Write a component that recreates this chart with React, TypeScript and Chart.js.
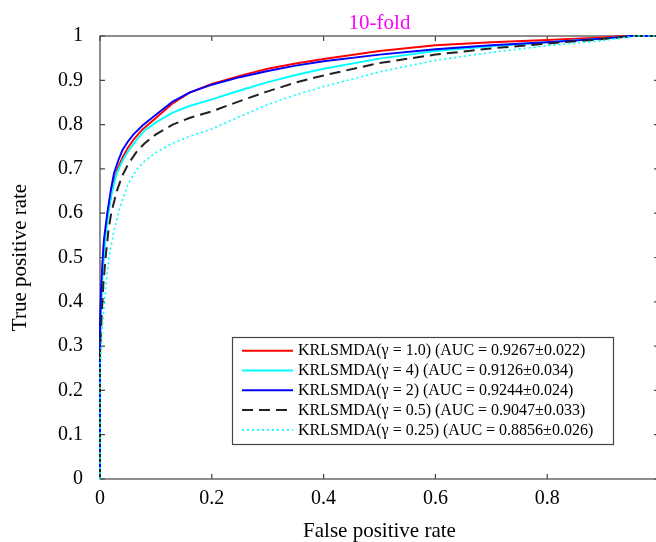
import React, { useEffect, useRef } from "react";
import { Chart, registerables } from "chart.js";

Chart.register(...registerables);

const chartTitle = "10-fold";
const xAxisTitle = "False positive rate";
const yAxisTitle = "True positive rate";

const seriesLabels = [
  "KRLSMDA(\u03b3 = 1.0) (AUC = 0.9267\u00b10.022)",
  "KRLSMDA(\u03b3 = 4) (AUC = 0.9126\u00b10.034)",
  "KRLSMDA(\u03b3 = 2) (AUC = 0.9244\u00b10.024)",
  "KRLSMDA(\u03b3 = 0.5) (AUC = 0.9047\u00b10.033)",
  "KRLSMDA(\u03b3 = 0.25) (AUC = 0.8856\u00b10.026)",
];

// gamma = 1.0 (red)
const fprG1 = [0, 0, 0.002, 0.004, 0.007, 0.013, 0.019, 0.025, 0.033, 0.04, 0.05, 0.06, 0.076, 0.1, 0.13, 0.16, 0.2, 0.25, 0.3, 0.35, 0.4, 0.5, 0.6, 0.7, 0.8, 0.9, 0.935, 1];
const tprG1 = [0, 0.3, 0.41, 0.47, 0.53, 0.59, 0.635, 0.675, 0.705, 0.725, 0.748, 0.766, 0.789, 0.815, 0.848, 0.872, 0.892, 0.91, 0.926, 0.938, 0.948, 0.966, 0.979, 0.986, 0.991, 0.997, 1, 1];

// gamma = 4 (cyan solid)
const fprG4 = [0, 0, 0.002, 0.005, 0.01, 0.015, 0.02, 0.03, 0.04, 0.05, 0.065, 0.08, 0.1, 0.13, 0.16, 0.2, 0.25, 0.3, 0.35, 0.4, 0.5, 0.6, 0.7, 0.8, 0.9, 0.95, 1];
const tprG4 = [0, 0.3, 0.39, 0.47, 0.55, 0.6, 0.64, 0.69, 0.718, 0.739, 0.765, 0.787, 0.805, 0.827, 0.842, 0.857, 0.877, 0.896, 0.912, 0.926, 0.949, 0.966, 0.977, 0.986, 0.994, 1, 1];

// gamma = 2 (blue)
const fprG2 = [0, 0, 0.002, 0.004, 0.007, 0.013, 0.019, 0.025, 0.033, 0.04, 0.05, 0.06, 0.076, 0.1, 0.13, 0.16, 0.2, 0.25, 0.3, 0.35, 0.4, 0.5, 0.6, 0.7, 0.8, 0.9, 0.95, 1];
const tprG2 = [0, 0.35, 0.43, 0.48, 0.54, 0.6, 0.65, 0.69, 0.72, 0.742, 0.762, 0.778, 0.798, 0.822, 0.852, 0.872, 0.89, 0.907, 0.921, 0.933, 0.943, 0.958, 0.97, 0.979, 0.986, 0.994, 1, 1];

// gamma = 0.5 (black dashed)
const fprG05 = [0, 0, 0.003, 0.006, 0.01, 0.015, 0.02, 0.03, 0.04, 0.05, 0.065, 0.08, 0.1, 0.13, 0.16, 0.2, 0.25, 0.3, 0.35, 0.4, 0.5, 0.6, 0.7, 0.8, 0.9, 0.95, 1];
const tprG05 = [0, 0.28, 0.37, 0.44, 0.5, 0.56, 0.6, 0.65, 0.685, 0.71, 0.738, 0.758, 0.778, 0.8, 0.815, 0.83, 0.853, 0.875, 0.895, 0.911, 0.939, 0.958, 0.972, 0.983, 0.993, 1, 1];

// gamma = 0.25 (cyan dotted)
const fprG025 = [0, 0, 0.004, 0.01, 0.016, 0.025, 0.035, 0.05, 0.065, 0.08, 0.1, 0.13, 0.16, 0.2, 0.25, 0.3, 0.35, 0.4, 0.5, 0.6, 0.7, 0.8, 0.9, 0.96, 1];
const tprG025 = [0, 0.25, 0.34, 0.43, 0.5, 0.56, 0.61, 0.665, 0.698, 0.718, 0.737, 0.758, 0.773, 0.79, 0.818, 0.845, 0.867, 0.886, 0.919, 0.945, 0.963, 0.978, 0.99, 1, 1];

const xTicks = [0, 0.2, 0.4, 0.6, 0.8, 1];
const yTicks = [0, 0.1, 0.2, 0.3, 0.4, 0.5, 0.6, 0.7, 0.8, 0.9, 1];

const FONT = "'Liberation Serif', 'Times New Roman', serif";

function pts(xs: number[], ys: number[]) {
  return xs.map((x, i) => ({ x, y: ys[i] }));
}

const framePlugin = {
  id: "frame",
  beforeDatasetsDraw(chart: any) {
    const { ctx, chartArea, scales } = chart;
    const { left, right, top, bottom } = chartArea;
    ctx.save();
    ctx.strokeStyle = "#444";
    ctx.lineWidth = 1.2;
    ctx.strokeRect(left, top, right - left, bottom - top);
    const tl = 5;
    ctx.beginPath();
    for (const v of xTicks) {
      const px = scales.x.getPixelForValue(v);
      ctx.moveTo(px, bottom);
      ctx.lineTo(px, bottom - tl);
      ctx.moveTo(px, top);
      ctx.lineTo(px, top + tl);
    }
    for (const v of yTicks) {
      const py = scales.y.getPixelForValue(v);
      ctx.moveTo(left, py);
      ctx.lineTo(left + tl, py);
      ctx.moveTo(right, py);
      ctx.lineTo(right - tl, py);
    }
    ctx.stroke();
    ctx.fillStyle = "#FF00FF";
    ctx.font = `21px ${FONT}`;
    ctx.textAlign = "center";
    ctx.textBaseline = "alphabetic";
    ctx.fillText(chartTitle, (left + right) / 2, 28.5);
    ctx.restore();
  },
};

const legendPlugin = {
  id: "boxLegend",
  afterDatasetsDraw(chart: any) {
    const { ctx } = chart;
    const bx = 232.5, by = 337.5, bw = 381, bh = 107;
    ctx.save();
    ctx.fillStyle = "#ffffff";
    ctx.fillRect(bx, by, bw, bh);
    ctx.strokeStyle = "#444";
    ctx.lineWidth = 1.2;
    ctx.strokeRect(bx, by, bw, bh);
    ctx.font = `16px ${FONT}`;
    ctx.textAlign = "left";
    ctx.textBaseline = "middle";
    chart.data.datasets.forEach((ds: any, i: number) => {
      const y = 350.7 + i * 19.8;
      ctx.strokeStyle = ds.borderColor;
      ctx.lineWidth = ds.borderWidth;
      ctx.setLineDash(ds.borderDash || []);
      ctx.beginPath();
      ctx.moveTo(242, y);
      ctx.lineTo(293, y);
      ctx.stroke();
      ctx.setLineDash([]);
      ctx.fillStyle = "#000";
      ctx.fillText(ds.label, 298, y + 0.5);
    });
    ctx.restore();
  },
};

export default function App() {
  const ref = useRef<HTMLCanvasElement>(null);
  useEffect(() => {
    document.body.style.margin = "0";
    const canvas = ref.current!;
    const styles = [
      { color: "#FF0000", dash: [], width: 1.9 },
      { color: "#00FFFF", dash: [], width: 1.9 },
      { color: "#0000FF", dash: [], width: 1.9 },
      { color: "#222222", dash: [11, 6], width: 2 },
      { color: "#00FFFF", dash: [2, 3], width: 1.6 },
    ];
    const dataPairs = [
      pts(fprG1, tprG1),
      pts(fprG4, tprG4),
      pts(fprG2, tprG2),
      pts(fprG05, tprG05),
      pts(fprG025, tprG025),
    ];
    const chart = new Chart(canvas, {
      type: "scatter",
      data: {
        datasets: dataPairs.map((d, i) => ({
          label: seriesLabels[i],
          data: d,
          showLine: true,
          borderColor: styles[i].color,
          backgroundColor: styles[i].color,
          borderWidth: styles[i].width,
          borderDash: styles[i].dash,
          pointRadius: 0,
          tension: 0,
          clip: false,
          order: dataPairs.length - i,
        })),
      },
      options: {
        animation: false,
        responsive: false,
        devicePixelRatio: 1,
        layout: { padding: { top: 36, right: 21, left: 0, bottom: 0 } },
        plugins: {
          legend: { display: false },
          tooltip: { enabled: false },
          title: { display: false },
        },
        scales: {
          x: {
            type: "linear",
            min: 0,
            max: 1,
            grid: { display: false },
            border: { display: false },
            afterBuildTicks: (s: any) => {
              s.ticks = xTicks.map((v) => ({ value: v }));
            },
            afterFit: (s: any) => {
              s.height = 63;
            },
            ticks: {
              padding: 0,
              color: "#000",
              font: { family: FONT, size: 20 },
              callback: (v: any) => (v >= 1 ? "" : String(Number(Number(v).toFixed(1)))),
            },
            title: {
              display: true,
              text: xAxisTitle,
              color: "#000",
              font: { family: FONT, size: 21, lineHeight: 1.0 },
              padding: { top: 0, bottom: 0 },
            },
          },
          y: {
            type: "linear",
            min: 0,
            max: 1,
            grid: { display: false },
            border: { display: false },
            afterBuildTicks: (s: any) => {
              s.ticks = yTicks.map((v) => ({ value: v }));
            },
            afterFit: (s: any) => {
              s.width = 100;
            },
            ticks: {
              padding: 9,
              color: "#000",
              font: { family: FONT, size: 20 },
              callback: (v: any) => String(Number(Number(v).toFixed(1))),
            },
            title: {
              display: true,
              text: yAxisTitle,
              color: "#000",
              font: { family: FONT, size: 21, lineHeight: 1.0 },
              padding: { top: 10, bottom: 0 },
            },
          },
        },
      },
      plugins: [framePlugin, legendPlugin],
    });
    return () => chart.destroy();
  }, []);
  return (
    <div
      style={{
        position: "fixed",
        left: 0,
        top: 0,
        width: 656,
        height: 542,
        overflow: "hidden",
        background: "#fff",
      }}
    >
      <canvas ref={ref} width={680} height={542} style={{ display: "block" }} />
    </div>
  );
}
